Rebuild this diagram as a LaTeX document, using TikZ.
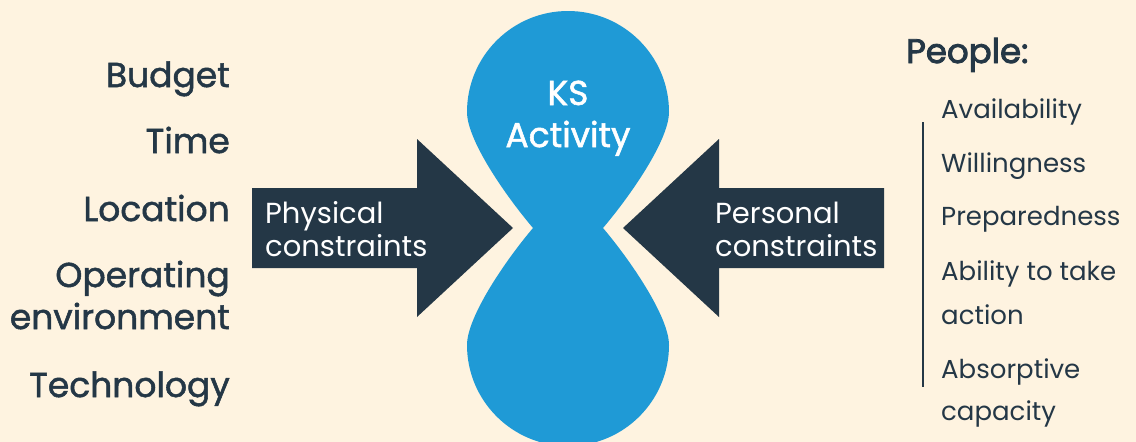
\documentclass[tikz,border=0pt]{standalone}
\usepackage{fontspec}
\setmainfont{Poppins}
\newfontfamily\medfont{Poppins}[FakeBold=1.5]
\newfontfamily\headfont{Poppins}[FakeBold=2.5]
\usepackage{xcolor}
\definecolor{KSbg}{RGB}{254,243,224}
\definecolor{KSblue}{RGB}{31,154,214}
\definecolor{KSnavy}{RGB}{36,55,70}

\tikzset{
  leftitem/.style={anchor=base east, inner sep=0, text=KSnavy,
                   font=\medfont\fontsize{34.5}{34.5}\selectfont},
  peopleitem/.style={anchor=base west, inner sep=0, text=KSnavy,
                   font=\fontsize{26}{26}\selectfont},
  arrowtext/.style={anchor=base west, inner sep=0, text=white,
                   font=\fontsize{29}{33}\selectfont},
  kstext/.style={anchor=base, inner sep=0, text=white,
                   font=\medfont\fontsize{34.5}{34.5}\selectfont},
  ksblob/.style={fill=KSblue},
  ksarrow/.style={fill=KSnavy}
}

\begin{document}
\begin{tikzpicture}[x=1pt, y=-1pt]
    \fill[KSbg] (0,0) rectangle (1136,442);
    \clip (0,0) rectangle (1136,442);

    % hourglass
    \fill[ksblob] (467,112) arc[start angle=180, end angle=360, radius=101]
                  .. controls (669,140) and (631,195) .. (603,228)
                  .. controls (631,261) and (669,317) .. (669,345)
                  arc[start angle=0, end angle=180, radius=101]
                  .. controls (467,317) and (505,261) .. (533,228)
                  .. controls (505,195) and (467,140) .. (467,112) -- cycle;
    \node (ks1) [kstext] at (568,105) {KS};
    \node (ks2) [kstext] at (568,147) {Activity};

    % arrows
    \fill[ksarrow] (252,188) -- (417,188) -- (417,139) -- (513,228)
                   -- (417,317) -- (417,268) -- (252,268) -- cycle;
    \fill[ksarrow] (884,188) -- (719,188) -- (719,139) -- (623,228)
                   -- (719,317) -- (719,268) -- (884,268) -- cycle;
    \node (phys1) [arrowtext] at (265,223) {Physical};
    \node (phys2) [arrowtext] at (265,256) {constraints};
    \node (pers1) [arrowtext] at (715,223) {Personal};
    \node (pers2) [arrowtext] at (715,256) {constraints};

    % physical constraints
    \node (budget) [leftitem] at (230,87) {Budget};
    \node (time) [leftitem] at (230,153) {Time};
    \node (location) [leftitem] at (230,221) {Location};
    \node (operating) [leftitem] at (230,287) {Operating};
    \node (environment) [leftitem] at (230,329) {environment};
    \node (technology) [leftitem] at (230,397) {Technology};

    % people
    \node (people) [anchor=base west, inner sep=0, text=KSnavy,
                    font=\headfont\fontsize{34}{34}\selectfont] at (906,63) {People:};
    \draw[KSnavy, line width=2.5pt] (923,122) -- (923,387);
    \node (avail) [peopleitem] at (941,118) {Availability};
    \node (will) [peopleitem] at (941,172) {Willingness};
    \node (prep) [peopleitem] at (941,225) {Preparedness};
    \node (ability) [peopleitem] at (941,280) {Ability to take};
    \node (action) [peopleitem] at (941,324) {action};
    \node (absorb) [peopleitem] at (941,378) {Absorptive};
    \node (capacity) [peopleitem] at (941,420) {capacity};
\end{tikzpicture}
\end{document}
